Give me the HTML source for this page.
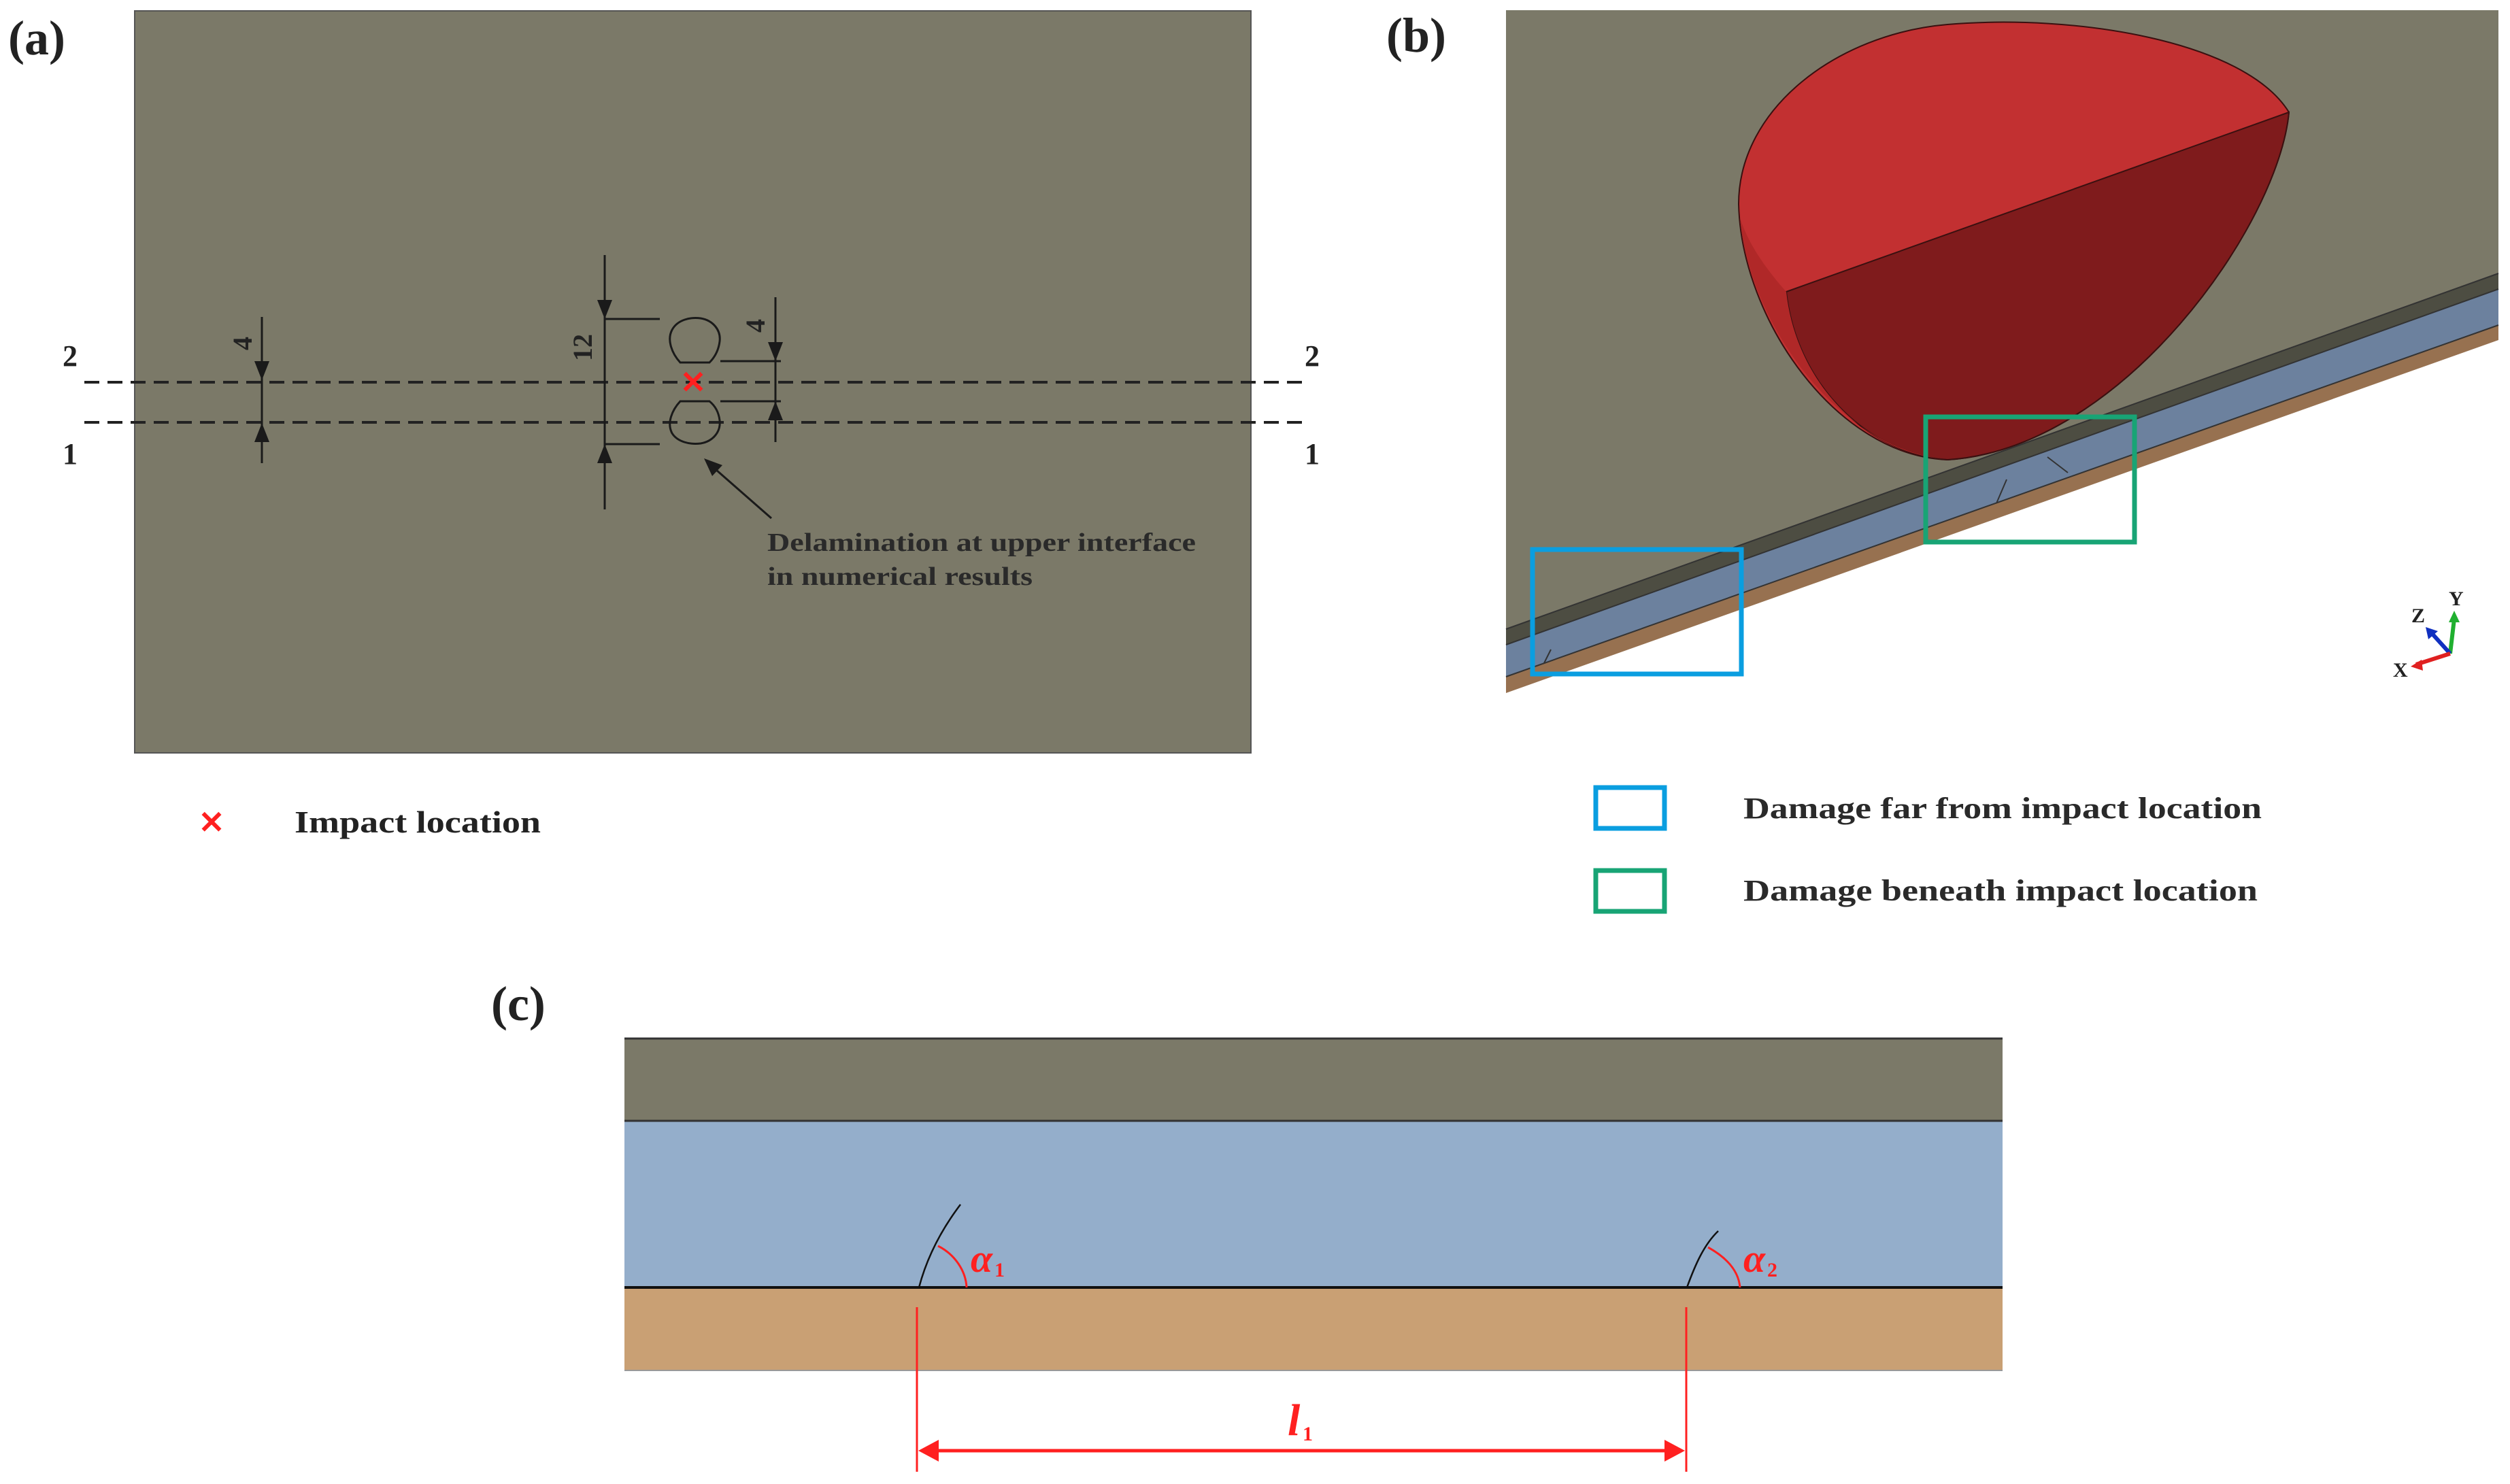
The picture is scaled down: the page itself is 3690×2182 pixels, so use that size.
<!DOCTYPE html>
<html><head><meta charset="utf-8"><style>
html,body{margin:0;padding:0;background:#fff;}
svg{display:block;}
text{font-family:"Liberation Serif",serif;font-weight:bold;}
</style></head><body>
<svg width="3690" height="2182" viewBox="0 0 3690 2182" xmlns="http://www.w3.org/2000/svg">
<!-- Panel a -->
<text x="12" y="80" font-size="72" fill="#222">(a)</text>
<rect x="198" y="16" width="1641" height="1091" fill="#7b7968" stroke="#555" stroke-width="2"/>
<g stroke="#222" stroke-width="4" stroke-dasharray="22,12" fill="none">
<line x1="124" y1="562" x2="1920" y2="562"/>
<line x1="124" y1="621" x2="1920" y2="621"/>
</g>
<text x="92" y="538" font-size="44" fill="#222">2</text>
<text x="92" y="682" font-size="44" fill="#222">1</text>
<text x="1918" y="538" font-size="44" fill="#222">2</text>
<text x="1918" y="682" font-size="44" fill="#222">1</text>
<g stroke="#1a1a1a" stroke-width="3" fill="none">
<line x1="385" y1="466" x2="385" y2="681"/>
<line x1="889" y1="375" x2="889" y2="749"/>
<line x1="889" y1="469" x2="970" y2="469"/>
<line x1="889" y1="653" x2="970" y2="653"/>
<line x1="1140" y1="437" x2="1140" y2="650"/>
<line x1="1059" y1="531" x2="1148" y2="531"/>
<line x1="1059" y1="590" x2="1148" y2="590"/>
<path d="M1000,533 C988,520 980,500 988,485 C996,470 1015,466 1030,468 C1048,471 1060,485 1058,502 C1056,518 1048,528 1043,533 Z"/>
<path d="M1000,590 C988,603 980,622 988,637 C996,650 1015,654 1030,652 C1048,649 1060,635 1058,618 C1056,602 1048,594 1043,590 Z"/>
<line x1="1134" y1="762" x2="1045" y2="684"/>
</g>
<g fill="#1a1a1a">
<polygon points="385,559 374,531 396,531"/>
<polygon points="385,622 374,650 396,650"/>
<polygon points="889,469 878,441 900,441"/>
<polygon points="889,653 878,681 900,681"/>
<polygon points="1140,531 1129,503 1151,503"/>
<polygon points="1140,590 1129,618 1151,618"/>
<polygon points="1035,674 1062,684 1047,700"/>
</g>
<text transform="translate(370,505) rotate(-90)" font-size="40" fill="#222" text-anchor="middle">4</text>
<text transform="translate(870,511) rotate(-90)" font-size="40" fill="#222" text-anchor="middle">12</text>
<text transform="translate(1124,479) rotate(-90)" font-size="40" fill="#222" text-anchor="middle">4</text>
<text x="1019" y="578" font-size="46" fill="#ff2020" text-anchor="middle" font-family="Liberation Sans">✕</text>
<text x="1128" y="810" font-size="38" fill="#2a2a2a" textLength="630" lengthAdjust="spacingAndGlyphs">Delamination at upper interface</text>
<text x="1128" y="860" font-size="38" fill="#2a2a2a" textLength="390" lengthAdjust="spacingAndGlyphs">in numerical results</text>
<text x="311" y="1225" font-size="46" fill="#ff2020" text-anchor="middle" font-family="Liberation Sans">✕</text>
<text x="433" y="1224" font-size="46" fill="#222" textLength="362" lengthAdjust="spacingAndGlyphs">Impact location</text>

<!-- Panel b -->
<text x="2038" y="76" font-size="72" fill="#222">(b)</text>
<polygon points="2214,15 3673,15 3673,402 2214,925" fill="#7b7968"/>
<polygon points="2214,925 3673,402 3673,425 2214,948" fill="#4d4d42"/>
<polygon points="2214,948 3673,425 3673,478 2214,995" fill="#6c819e"/>
<polygon points="2214,995 3673,478 3673,500 2214,1019" fill="#977150"/>
<g stroke="#333" stroke-width="2" fill="none">
<line x1="2214" y1="925" x2="3673" y2="402"/>
<line x1="2214" y1="948" x2="3673" y2="425"/>
<line x1="2214" y1="995" x2="3673" y2="478"/>
<line x1="2935" y1="740" x2="2950" y2="705"/>
<line x1="3010" y1="672" x2="3040" y2="695"/>
<line x1="2270" y1="975" x2="2280" y2="955"/>
</g>
<path d="M3365,165 C3300,60 3050,20 2863,36 C2700,50 2556,160 2556,300 C2560,470 2700,670 2863,676 C3120,660 3350,330 3365,165 Z" fill="#c23031" stroke="#3a1010" stroke-width="2"/>
<path d="M2626,429 L3365,165 C3350,330 3120,660 2863,676 C2740,666 2640,560 2626,429 Z" fill="#7f1b1c" stroke="#3a1010" stroke-width="2"/>
<path d="M2626,429 C2600,400 2570,360 2558,320 C2570,470 2700,660 2860,675 C2740,666 2640,560 2626,429 Z" fill="#b02828"/>
<rect x="2831" y="613" width="307" height="184" fill="none" stroke="#18a475" stroke-width="7"/>
<rect x="2253" y="808" width="307" height="183" fill="none" stroke="#0a9ee0" stroke-width="7"/>
<g stroke-width="6">
<line x1="3602" y1="961" x2="3608" y2="910" stroke="#20b030"/>
<line x1="3602" y1="961" x2="3574" y2="930" stroke="#1030c0"/>
<line x1="3602" y1="961" x2="3552" y2="977" stroke="#e02020"/>
</g>
<polygon points="3608,898 3600,915 3616,915" fill="#20b030"/>
<polygon points="3566,922 3570,940 3584,928" fill="#1030c0"/>
<polygon points="3544,980 3560,970 3562,986" fill="#e02020"/>
<text x="3600" y="890" font-size="30" fill="#222" font-weight="normal">Y</text>
<text x="3545" y="915" font-size="30" fill="#222" font-weight="normal">Z</text>
<text x="3518" y="995" font-size="30" fill="#222" font-weight="normal">X</text>
<rect x="2346" y="1158" width="101" height="60" fill="none" stroke="#0a9ee0" stroke-width="7"/>
<rect x="2346" y="1280" width="101" height="60" fill="none" stroke="#18a475" stroke-width="7"/>
<text x="2563" y="1203" font-size="44" fill="#2a2a2a" textLength="762" lengthAdjust="spacingAndGlyphs">Damage far from impact location</text>
<text x="2563" y="1324" font-size="44" fill="#2a2a2a" textLength="756" lengthAdjust="spacingAndGlyphs">Damage beneath impact location</text>

<!-- Panel c -->
<text x="722" y="1500" font-size="72" fill="#222">(c)</text>
<rect x="918" y="1526" width="2026" height="122" fill="#7b7968"/>
<rect x="918" y="1648" width="2026" height="245" fill="#94aecb"/>
<rect x="918" y="1893" width="2026" height="122" fill="#c9a074"/>
<line x1="918" y1="1527" x2="2944" y2="1527" stroke="#333" stroke-width="3"/>
<line x1="918" y1="1648" x2="2944" y2="1648" stroke="#333" stroke-width="3"/>
<line x1="918" y1="1893" x2="2944" y2="1893" stroke="#111" stroke-width="4"/>
<line x1="918" y1="2015" x2="2944" y2="2015" stroke="#999" stroke-width="2"/>
<g stroke="#111" stroke-width="2.5" fill="none">
<path d="M1351,1893 C1365,1840 1390,1800 1412,1771"/>
<path d="M2480,1893 C2492,1860 2505,1830 2526,1810"/>
</g>
<g stroke="#ff2020" stroke-width="3" fill="none">
<path d="M1379,1832 C1405,1845 1420,1870 1421,1893"/>
<path d="M2511,1834 C2540,1850 2556,1870 2558,1893"/>
<line x1="1348" y1="1922" x2="1348" y2="2164"/>
<line x1="2479" y1="1922" x2="2479" y2="2164"/>
<line x1="1370" y1="2133" x2="2457" y2="2133" stroke-width="5"/>
</g>
<polygon points="1350,2133 1380,2117 1380,2149" fill="#ff2020"/>
<polygon points="2477,2133 2447,2117 2447,2149" fill="#ff2020"/>
<g fill="#ff2020" font-style="italic" font-weight="normal">
<text x="1427" y="1870" font-size="58">α</text>
<text x="1462" y="1877" font-size="30" font-style="normal">1</text>
<text x="2563" y="1870" font-size="58">α</text>
<text x="2598" y="1877" font-size="30" font-style="normal">2</text>
<text x="1893" y="2110" font-size="66">l</text>
<text x="1915" y="2118" font-size="30" font-style="normal">1</text>
</g>
</svg>
</body></html>
